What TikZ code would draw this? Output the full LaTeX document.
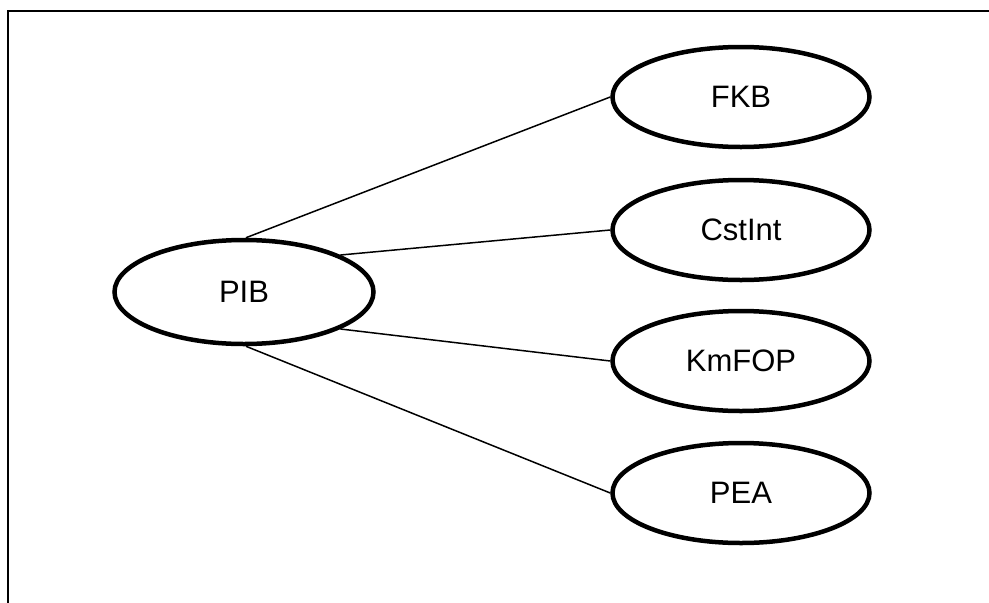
\documentclass[tikz,border=0pt]{standalone}
\usepackage{fontspec}
\setmainfont{Liberation Sans}
\usepackage{tikz}
\usetikzlibrary{shapes.geometric}

\begin{document}
\begin{tikzpicture}[x=1pt, y=-1pt,
    item/.style={draw, ellipse, line width=4.5pt, inner sep=0pt,
        minimum width=257pt, minimum height=100pt,
        font=\fontsize{31}{37}\selectfont},
    link/.style={line width=1.5pt}]
        \useasboundingbox (0, 0) rectangle (989, 603);

        % Frame
        \draw[line width=2pt] (7.5, 603) |- (989, 10.5);

        % Source node
        \node[item, minimum width=259pt, minimum height=104pt] (pib) at (244, 292) {PIB};

        % Target nodes
        \node[item] (fkb) at (741, 97) {FKB};
        \node[item] (cstint) at (741, 230) {CstInt};
        \node[item] (kmfop) at (741, 361) {KmFOP};
        \node[item] (pea) at (741, 493) {PEA};

        % Connections
        \draw[link] (pib.88) -- (fkb.west);
        \draw[link] (pib.21) -- (cstint.west);
        \draw[link] (pib.-21) -- (kmfop.west);
        \draw[link] (pib.-88) -- (pea.west);
    \end{tikzpicture}
\end{document}
